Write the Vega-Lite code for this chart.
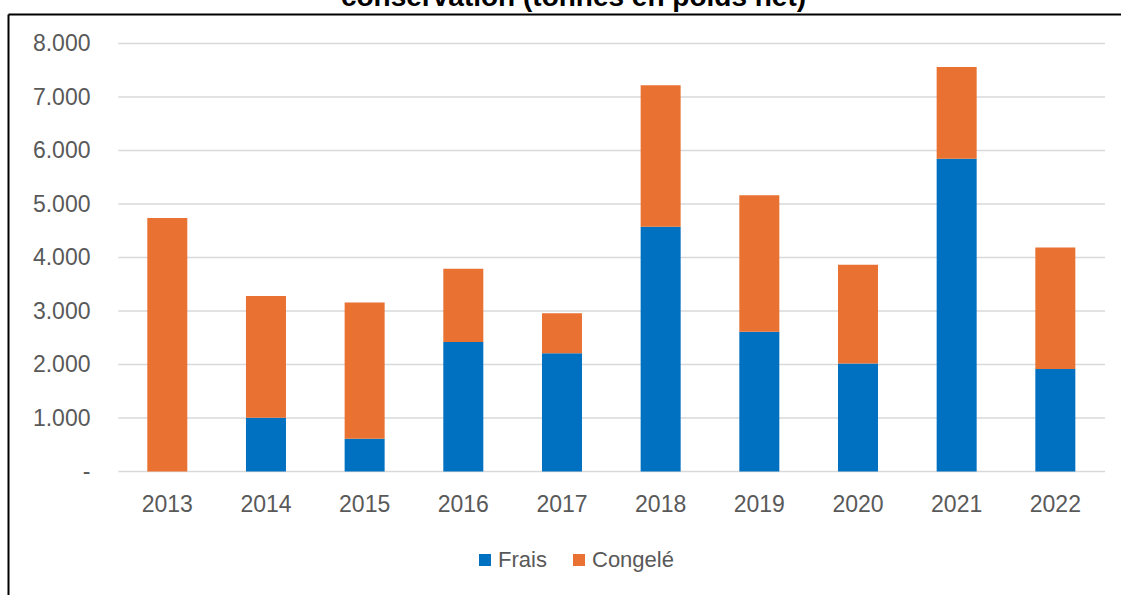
{
  "$schema": "https://vega.github.io/schema/vega-lite/v6.json",
  "autosize": {"type": "none"},
  "width": 1113,
  "height": 581,
  "padding": {"left": 8, "top": 14, "right": 0, "bottom": 0},
  "background": "white",
  "config": {"view": {"stroke": null}, "font": "Liberation Sans"},
  "title": {
    "text": "conservation (tonnes en poids net)",
    "fontSize": 28,
    "fontWeight": "bold",
    "color": "black",
    "font": "Liberation Sans",
    "anchor": "middle",
    "baseline": "alphabetic",
    "offset": -1,
    "dx": 9,
    "dy": 19
  },
  "layer": [
    {
      "data": {"values": [{"v": 0}, {"v": 1000}, {"v": 2000}, {"v": 3000}, {"v": 4000}, {"v": 5000}, {"v": 6000}, {"v": 7000}, {"v": 8000}]},
      "mark": {"type": "rule", "color": "#d9d9d9", "strokeWidth": 1.5},
      "encoding": {
        "y": {
          "field": "v", "type": "quantitative",
          "scale": {"domain": [-2308.4, 8551.4], "nice": false, "zero": false},
          "axis": {
            "orient": "left", "title": null,
            "values": [0, 1000, 2000, 3000, 4000, 5000, 6000, 7000, 8000],
            "domainColor": "black", "domainWidth": 2, "ticks": false, "tickSize": 0,
            "labelPadding": -82, "grid": false, "labelFontSize": 23, "labelColor": "#595959",
            "labelFont": "Liberation Sans",
            "labelExpr": "datum.value === 0 ? '-\u00a0\u00a0' : replace(format(datum.value, ','), ',', '.')"
          }
        },
        "x": {
          "datum": "2013", "type": "nominal", "bandPosition": -0.725,
          "scale": {"domain": ["2013","2014","2015","2016","2017","2018","2019","2020","2021","2022"],
                    "paddingInner": 0.5946, "paddingOuter": 0.9373, "align": 0.7531},
          "axis": {
            "orient": "top", "title": null, "domainColor": "black", "domainWidth": 2,
            "ticks": false, "tickSize": 0, "labelPadding": -497, "labelBaseline": "alphabetic",
            "labelAngle": 0, "labelFontSize": 23, "labelColor": "#595959", "labelFont": "Liberation Sans",
            "grid": false, "labelOverlap": false
          }
        },
        "x2": {"datum": "2022", "bandPosition": 1.7425}
      }
    },
    {
      "data": {"values": [
        {"year": "2013", "type": "Frais", "t": 0},
        {"year": "2013", "type": "Congelé", "t": 4740},
        {"year": "2014", "type": "Frais", "t": 1005},
        {"year": "2014", "type": "Congelé", "t": 2275},
        {"year": "2015", "type": "Frais", "t": 610},
        {"year": "2015", "type": "Congelé", "t": 2550},
        {"year": "2016", "type": "Frais", "t": 2420},
        {"year": "2016", "type": "Congelé", "t": 1370},
        {"year": "2017", "type": "Frais", "t": 2210},
        {"year": "2017", "type": "Congelé", "t": 750},
        {"year": "2018", "type": "Frais", "t": 4575},
        {"year": "2018", "type": "Congelé", "t": 2645},
        {"year": "2019", "type": "Frais", "t": 2610},
        {"year": "2019", "type": "Congelé", "t": 2555},
        {"year": "2020", "type": "Frais", "t": 2020},
        {"year": "2020", "type": "Congelé", "t": 1845},
        {"year": "2021", "type": "Frais", "t": 5845},
        {"year": "2021", "type": "Congelé", "t": 1715},
        {"year": "2022", "type": "Frais", "t": 1915},
        {"year": "2022", "type": "Congelé", "t": 2270}
      ]},
      "mark": {"type": "bar"},
      "encoding": {
        "x": {
          "field": "year", "type": "nominal",
          "scale": {"domain": ["2013","2014","2015","2016","2017","2018","2019","2020","2021","2022"],
                    "paddingInner": 0.5946, "paddingOuter": 0.9373, "align": 0.7531},
          "axis": {
            "orient": "top", "title": null, "domainColor": "black", "domainWidth": 2,
            "ticks": false, "tickSize": 0, "labelPadding": -497, "labelBaseline": "alphabetic",
            "labelAngle": 0, "labelFontSize": 23, "labelColor": "#595959", "labelFont": "Liberation Sans",
            "grid": false, "labelOverlap": false
          }
        },
        "y": {
          "field": "t", "type": "quantitative", "stack": "zero",
          "scale": {"domain": [-2308.4, 8551.4], "nice": false, "zero": false},
          "axis": {
            "orient": "left", "title": null,
            "values": [0, 1000, 2000, 3000, 4000, 5000, 6000, 7000, 8000],
            "domainColor": "black", "domainWidth": 2, "ticks": false, "tickSize": 0,
            "labelPadding": -82, "grid": false, "labelFontSize": 23, "labelColor": "#595959",
            "labelFont": "Liberation Sans",
            "labelExpr": "datum.value === 0 ? '-\u00a0\u00a0' : replace(format(datum.value, ','), ',', '.')"
          }
        },
        "color": {
          "field": "type", "type": "nominal",
          "scale": {"domain": ["Frais", "Congelé"], "range": ["#0070c0", "#e97132"]},
          "legend": {
            "orient": "none", "legendX": 466, "legendY": 535, "direction": "horizontal",
            "title": null, "symbolType": "square", "symbolSize": 144, "symbolStrokeWidth": 0,
            "labelFontSize": 22, "labelColor": "#595959", "labelFont": "Liberation Sans",
            "columnPadding": 21, "labelOffset": 2, "padding": 0
          }
        },
        "order": {"field": "type", "sort": "descending"}
      }
    }
  ]
}
